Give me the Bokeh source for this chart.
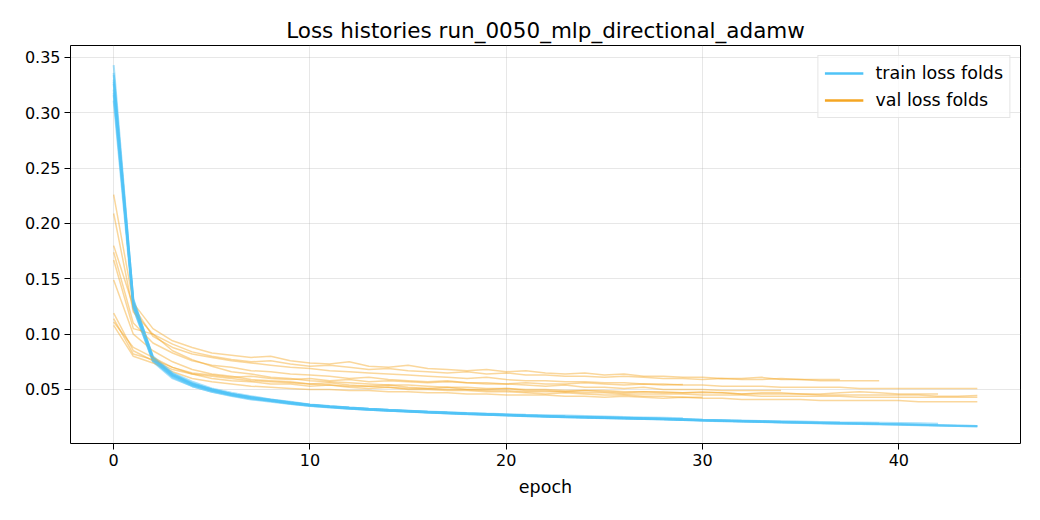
from bokeh.plotting import figure
from bokeh.models import Range1d, NumeralTickFormatter, Legend, LegendItem, FixedTicker
from bokeh.embed import file_html
from bokeh.resources import INLINE

TITLE = "Loss histories run_0050_mlp_directional_adamw"
X_LABEL = "epoch"
TRAIN_LABEL = "train loss folds"
VAL_LABEL = "val loss folds"

train_f1 = [0.343, 0.130, 0.078, 0.063, 0.055, 0.050, 0.046, 0.043, 0.040, 0.038, 0.036, 0.0345, 0.0332, 0.0321, 0.0312, 0.0303, 0.0295, 0.0288, 0.0281, 0.0275, 0.0269, 0.0263, 0.0258, 0.0253, 0.0249, 0.0245, 0.0241, 0.0237, 0.0233, 0.0227, 0.0221, 0.0217, 0.0213, 0.0209, 0.0205, 0.0201, 0.0197, 0.0194, 0.0191, 0.0188, 0.0185, 0.0181, 0.0177, 0.0173, 0.0169]
train_f2 = [0.336, 0.126, 0.076, 0.061, 0.053, 0.048, 0.0445, 0.0415, 0.0395, 0.037, 0.0352, 0.0339, 0.0327, 0.0317, 0.0308, 0.0300, 0.0292, 0.0285, 0.0278, 0.0272, 0.0266, 0.0260, 0.0255, 0.0250, 0.0246, 0.0242, 0.0238, 0.0234, 0.0230, 0.0225, 0.0219, 0.0215, 0.0211, 0.0207, 0.0203, 0.0199, 0.0195, 0.0192, 0.0189, 0.0186, 0.0183, 0.0179, 0.0175, 0.0171, 0.0167]
train_f3 = [0.330, 0.132, 0.079, 0.064, 0.056, 0.050, 0.046, 0.043, 0.041, 0.0385, 0.0362, 0.0347, 0.0334, 0.0323, 0.0313, 0.0305, 0.0297, 0.0290, 0.0283, 0.0276, 0.0270, 0.0265, 0.0259, 0.0254, 0.0250, 0.0246, 0.0242, 0.0238, 0.0234, 0.0228, 0.0222, 0.0218, 0.0214, 0.0210, 0.0206, 0.0202, 0.0198, 0.0195, 0.0192, 0.0189, 0.0186, 0.0182, 0.0178, 0.0174, 0.0170]
train_f4 = [0.326, 0.124, 0.075, 0.060, 0.053, 0.048, 0.044, 0.041, 0.039, 0.0368, 0.0350, 0.0337, 0.0326, 0.0316, 0.0307, 0.0299, 0.0291, 0.0284, 0.0277, 0.0271, 0.0265, 0.0259, 0.0254, 0.0249, 0.0245, 0.0241, 0.0237, 0.0233, 0.0229, 0.0224, 0.0218, 0.0214, 0.0210, 0.0206, 0.0202, 0.0198, 0.0194, 0.0191, 0.0188, 0.0185, 0.0182, 0.0178, 0.0174, 0.0170, 0.0166]
train_f5 = [0.321, 0.129, 0.080, 0.065, 0.057, 0.051, 0.047, 0.044, 0.041, 0.039, 0.0365, 0.0350, 0.0337, 0.0326, 0.0316, 0.0308, 0.0300, 0.0292, 0.0285, 0.0279, 0.0273, 0.0267, 0.0262, 0.0257, 0.0253, 0.0249, 0.0245, 0.0241, 0.0237, 0.0232, 0.0227, 0.0223, 0.0219, 0.0216, 0.0213, 0.0210, 0.0207, 0.0204, 0.0202, 0.0200, 0.0197, 0.0194, 0.0190]
train_f6 = [0.316, 0.127, 0.078, 0.063, 0.055, 0.049, 0.045, 0.042, 0.040, 0.0378, 0.0358, 0.0344, 0.0332, 0.0321, 0.0312, 0.0304, 0.0296, 0.0289, 0.0282, 0.0276, 0.0270, 0.0264, 0.0259, 0.0254, 0.0250, 0.0246, 0.0242, 0.0238, 0.0234, 0.0229, 0.0224, 0.0220, 0.0216, 0.0212, 0.0209, 0.0206, 0.0203, 0.0200, 0.0198, 0.0196]
train_f7 = [0.311, 0.123, 0.076, 0.062, 0.054, 0.049, 0.045, 0.042, 0.0395, 0.0373, 0.0354, 0.0341, 0.0329, 0.0318, 0.0309, 0.0301, 0.0293, 0.0286, 0.0279, 0.0273, 0.0267, 0.0261, 0.0256, 0.0251, 0.0247, 0.0243, 0.0239, 0.0235, 0.0231, 0.0226, 0.0221, 0.0217, 0.0213, 0.0209, 0.0205, 0.0201, 0.0198, 0.0195]
train_f8 = [0.334, 0.131, 0.079, 0.064, 0.055, 0.050, 0.046, 0.043, 0.0405, 0.0382, 0.0361, 0.0347, 0.0334, 0.0324, 0.0314, 0.0306, 0.0298, 0.0291, 0.0284, 0.0278, 0.0272, 0.0266, 0.0261, 0.0256, 0.0252, 0.0248, 0.0244, 0.0240, 0.0236, 0.0231, 0.0225, 0.0221, 0.0217, 0.0213, 0.0209]
train_f9 = [0.328, 0.125, 0.077, 0.062, 0.054, 0.049, 0.0455, 0.0425, 0.040, 0.0378, 0.0357, 0.0343, 0.0331, 0.0320, 0.0311, 0.0303, 0.0295, 0.0288, 0.0281, 0.0275, 0.0269, 0.0264, 0.0259, 0.0255, 0.0251, 0.0247, 0.0243, 0.0239, 0.0235, 0.0231, 0.0227]
train_f10 = [0.318, 0.128, 0.078, 0.063, 0.055, 0.050, 0.046, 0.043, 0.0405, 0.0383, 0.0363, 0.0349, 0.0337, 0.0326, 0.0317, 0.0309, 0.0301, 0.0294, 0.0288, 0.0282, 0.0277, 0.0272, 0.0268, 0.0264, 0.0260, 0.0256, 0.0252, 0.0248, 0.0244, 0.0240]

val_f1 = [0.180, 0.125, 0.098, 0.088, 0.082, 0.079, 0.076, 0.074, 0.072, 0.070, 0.069, 0.067, 0.066, 0.065, 0.064, 0.063, 0.062, 0.061, 0.060, 0.061, 0.059, 0.058, 0.058, 0.057, 0.057, 0.056, 0.056, 0.055, 0.055, 0.054, 0.054, 0.053, 0.053, 0.053, 0.052, 0.052, 0.052, 0.052, 0.051, 0.051, 0.051, 0.051, 0.051, 0.051, 0.051]
val_f2 = [0.167, 0.105, 0.100, 0.085, 0.077, 0.071, 0.066, 0.064, 0.061, 0.060, 0.058, 0.057, 0.056, 0.055, 0.054, 0.054, 0.053, 0.052, 0.052, 0.051, 0.051, 0.050, 0.050, 0.049, 0.049, 0.049, 0.048, 0.048, 0.048, 0.047, 0.047, 0.047, 0.046, 0.046, 0.046, 0.046, 0.045, 0.045, 0.045, 0.045, 0.045, 0.045, 0.044, 0.044, 0.0445]
val_f3 = [0.119, 0.085, 0.076, 0.068, 0.064, 0.062, 0.060, 0.058, 0.057, 0.056, 0.055, 0.054, 0.053, 0.053, 0.052, 0.051, 0.051, 0.050, 0.050, 0.049, 0.049, 0.048, 0.048, 0.048, 0.047, 0.047, 0.046, 0.046, 0.046, 0.046, 0.045, 0.045, 0.045, 0.044, 0.044, 0.044, 0.044, 0.044, 0.043, 0.043, 0.043, 0.043, 0.043, 0.043, 0.043]
val_f4 = [0.108, 0.080, 0.074, 0.066, 0.060, 0.057, 0.055, 0.053, 0.052, 0.051, 0.050, 0.050, 0.049, 0.049, 0.048, 0.048, 0.047, 0.047, 0.046, 0.046, 0.045, 0.045, 0.045, 0.044, 0.044, 0.043, 0.044, 0.043, 0.042, 0.043, 0.042, 0.042, 0.041, 0.041, 0.041, 0.041, 0.040, 0.040, 0.040, 0.040, 0.040, 0.039, 0.039, 0.039, 0.039]
val_f5 = [0.149, 0.100, 0.085, 0.075, 0.068, 0.064, 0.062, 0.059, 0.058, 0.057, 0.055, 0.056, 0.054, 0.053, 0.054, 0.052, 0.051, 0.052, 0.050, 0.050, 0.051, 0.049, 0.049, 0.048, 0.049, 0.048, 0.047, 0.048, 0.047, 0.047, 0.048, 0.047, 0.046, 0.047, 0.047, 0.046, 0.046, 0.047, 0.048, 0.047, 0.046, 0.046, 0.046]
val_f6 = [0.226, 0.128, 0.105, 0.094, 0.088, 0.083, 0.081, 0.079, 0.080, 0.076, 0.074, 0.073, 0.075, 0.071, 0.070, 0.072, 0.069, 0.068, 0.067, 0.068, 0.066, 0.067, 0.065, 0.064, 0.065, 0.063, 0.064, 0.062, 0.062, 0.061, 0.061, 0.060, 0.060, 0.061, 0.059, 0.059, 0.058, 0.058, 0.058, 0.058]
val_f7 = [0.209, 0.120, 0.100, 0.091, 0.084, 0.080, 0.077, 0.075, 0.076, 0.073, 0.071, 0.072, 0.070, 0.068, 0.069, 0.067, 0.066, 0.065, 0.066, 0.064, 0.065, 0.063, 0.063, 0.062, 0.062, 0.061, 0.062, 0.061, 0.060, 0.060, 0.059, 0.060, 0.059, 0.059, 0.060, 0.059, 0.059, 0.059]
val_f8 = [0.174, 0.110, 0.092, 0.083, 0.076, 0.072, 0.070, 0.067, 0.066, 0.064, 0.063, 0.062, 0.060, 0.061, 0.059, 0.058, 0.057, 0.058, 0.056, 0.055, 0.055, 0.054, 0.053, 0.054, 0.052, 0.052, 0.051, 0.052, 0.050, 0.050, 0.050, 0.049, 0.049, 0.049, 0.049]
val_f9 = [0.114, 0.082, 0.077, 0.070, 0.064, 0.060, 0.058, 0.057, 0.055, 0.055, 0.053, 0.054, 0.052, 0.051, 0.052, 0.050, 0.050, 0.049, 0.049, 0.048, 0.048, 0.047, 0.046, 0.047, 0.046, 0.045, 0.045, 0.044, 0.044, 0.043, 0.043]
val_f10 = [0.111, 0.088, 0.079, 0.070, 0.065, 0.063, 0.061, 0.062, 0.060, 0.059, 0.060, 0.058, 0.059, 0.057, 0.058, 0.057, 0.056, 0.057, 0.056, 0.056, 0.055, 0.056, 0.055, 0.055, 0.056, 0.055, 0.054, 0.055, 0.054, 0.0545]

train_folds = [train_f1, train_f2, train_f3, train_f4, train_f5, train_f6, train_f7, train_f8, train_f9, train_f10]
val_folds = [val_f1, val_f2, val_f3, val_f4, val_f5, val_f6, val_f7, val_f8, val_f9, val_f10]

x_ticks = [0, 10, 20, 30, 40]
y_ticks = [0.05, 0.10, 0.15, 0.20, 0.25, 0.30, 0.35]

TRAIN_COLOR = "#4fc3f7"
VAL_COLOR = "#f5a623"
FONT = "DejaVu Sans"

p = figure(width=1032, height=512, output_backend="svg", toolbar_location=None,
           x_range=Range1d(-2.2, 46.2), y_range=Range1d(0.0012, 0.3608),
           min_border_left=70, min_border_right=12, min_border_top=45, min_border_bottom=69)
p.title.text = TITLE
p.title.align = "center"
p.title.text_font = FONT
p.title.text_font_size = "21.5px"
p.title.text_font_style = "normal"
p.title.text_color = "black"
p.title.standoff = 6

p.outline_line_color = "black"
p.outline_line_width = 1
p.background_fill_color = "white"
p.border_fill_color = "white"

for ax in (p.xaxis[0], p.yaxis[0]):
    ax.axis_line_color = None
    ax.major_tick_out = 6
    ax.major_tick_in = 0
    ax.minor_tick_line_color = None
    ax.major_tick_line_color = "black"
    ax.major_label_text_font = FONT
    ax.major_label_text_font_size = "16px"
    ax.major_label_text_color = "black"
    ax.major_label_standoff = 4
    ax.axis_label_text_font = FONT
    ax.axis_label_text_font_size = "17.5px"
    ax.axis_label_text_font_style = "normal"
    ax.axis_label_text_color = "black"

p.xaxis.ticker = FixedTicker(ticks=x_ticks)
p.yaxis.ticker = FixedTicker(ticks=y_ticks)
p.yaxis.formatter = NumeralTickFormatter(format="0.00")
p.xaxis.axis_label = X_LABEL
p.xaxis.axis_label_standoff = 8

p.grid.grid_line_color = "#b0b0b0"
p.grid.grid_line_alpha = 0.3
p.grid.grid_line_width = 1

for tr, va in zip(train_folds, val_folds):
    p.line(list(range(len(tr))), tr, line_color=TRAIN_COLOR, line_alpha=0.5, line_width=2)
    p.line(list(range(len(va))), va, line_color=VAL_COLOR, line_alpha=0.45, line_width=1.5)

# legend proxies: single-point lines (draw nothing in the plot)
leg_train = p.line([0], [train_f1[0]], line_color=TRAIN_COLOR, line_width=2.4)
leg_val = p.line([0], [val_f1[0]], line_color=VAL_COLOR, line_width=2.4)

legend = Legend(items=[LegendItem(label=TRAIN_LABEL, renderers=[leg_train]),
                       LegendItem(label=VAL_LABEL, renderers=[leg_val])],
                location="top_right", margin=10, padding=6, spacing=5,
                glyph_width=39, glyph_height=22, label_height=22, label_standoff=12,
                label_text_font=FONT, label_text_font_size="17.5px", label_text_color="black",
                border_line_color="#cccccc", border_line_width=1,
                background_fill_color="white", background_fill_alpha=0.8)
p.add_layout(legend)

open("out.html", "w").write(file_html(p, INLINE))
